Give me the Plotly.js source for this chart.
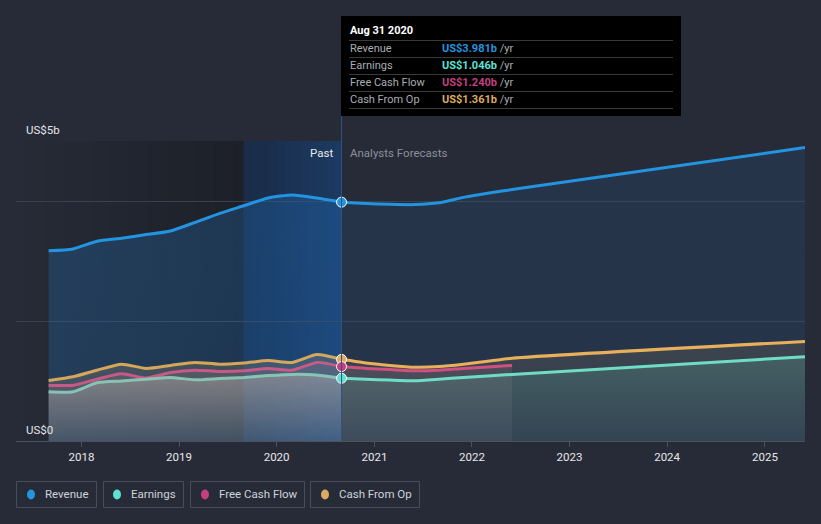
<!DOCTYPE html>
<html>
<head>
<meta charset="utf-8">
<script src="https://cdn.plot.ly/plotly-3.0.1.min.js"></script>
<style>
  html, body { margin: 0; padding: 0; background: #262b37; }
  #chart { width: 821px; height: 524px; }
</style>
</head>
<body>
<div id="chart"></div>
<script>
// ---------- data (US$ billions) ----------
const pastDates = ['2017-08-31','2017-11-30','2018-02-28','2018-05-31','2018-08-31','2018-11-30','2019-02-28','2019-05-31','2019-08-31','2019-11-30','2020-02-29','2020-05-31','2020-08-31'];
const pastRevenue  = [3.17, 3.20, 3.33, 3.38, 3.44, 3.50, 3.64, 3.79, 3.92, 4.05, 4.10, 4.05, 3.981];
const pastEarnings = [0.82, 0.82, 0.97, 1.00, 1.03, 1.06, 1.02, 1.04, 1.06, 1.09, 1.11, 1.10, 1.046];
const pastFCF      = [0.93, 0.93, 1.03, 1.12, 1.05, 1.14, 1.18, 1.16, 1.17, 1.21, 1.18, 1.31, 1.240];
const pastCFO      = [1.01, 1.07, 1.18, 1.28, 1.21, 1.26, 1.31, 1.28, 1.30, 1.34, 1.31, 1.44, 1.361];

const fcDates = ['2020-08-31','2020-11-30','2021-02-28','2021-05-31','2021-08-31','2021-11-30','2022-02-28','2022-05-31','2025-05-31'];
const fcRevenue  = [3.981, 3.96, 3.945, 3.94, 3.97, 4.06, 4.13, 4.19, 4.89];
const fcEarnings = [1.046, 1.03, 1.015, 1.005, 1.03, 1.06, 1.085, 1.11, 1.405];
const fcCFO      = [1.361, 1.30, 1.26, 1.23, 1.24, 1.28, 1.33, 1.38, 1.66];
const fcFCF      = [1.240, 1.21, 1.19, 1.17, 1.18, 1.21, 1.235, 1.26];

const xTickVals = ['2018-01-01','2019-01-01','2020-01-01','2021-01-01','2022-01-01','2023-01-01','2024-01-01','2025-01-01'];
const xTickText = ['2018','2019','2020','2021','2022','2023','2024','2025'];
const yTickVals = [0, 2, 4, 5];
const yTickText = ['US$0', '', '', 'US$5b'];

const seriesNames = ['Revenue', 'Earnings', 'Free Cash Flow', 'Cash From Op'];
const tooltipDate = 'Aug 31 2020';
const tooltipValues = ['US$3.981b', 'US$1.046b', 'US$1.240b', 'US$1.361b'];

const pastStart = '2019-08-31';
const nowDate = '2020-08-31';
const xRange = ['2017-05-01', '2025-05-31'];

// ---------- styles ----------
const C = {
  rev: '#2394df', earn: '#6fdcc5', fcf: '#d0517f', cfo: '#e8b05a',
  revDot: '#2394df', earnDot: '#5ee0d4', fcfDot: '#c2407f', cfoDot: '#dcaa62'
};
const font = 'Roboto, "Open Sans", sans-serif';

function grad(c0, c1) { return {type: 'vertical', colorscale: [[0, c0], [1, c1]]}; }

function line(x, y, color, width, fillgrad) {
  return {
    type: 'scatter', mode: 'lines', x: x, y: y,
    line: {color: color, width: width, shape: 'spline', smoothing: 0.6},
    fill: 'tozeroy', fillgradient: fillgrad,
    hoverinfo: 'skip', showlegend: false
  };
}

const traces = [
  // past
  line(pastDates, pastRevenue, C.rev, 3, grad('rgba(33,130,220,0.22)', 'rgba(33,130,220,0.24)')),
  line(pastDates, pastCFO, 'rgba(232,176,90,0.9)', 3, grad('rgba(200,175,130,0.10)', 'rgba(200,175,120,0.22)')),
  line(pastDates, pastFCF, 'rgba(214,90,140,0.9)', 3, grad('rgba(190,150,160,0.05)', 'rgba(200,140,155,0.16)')),
  line(pastDates, pastEarnings, 'rgba(140,205,185,0.9)', 3, grad('rgba(200,195,190,0.08)', 'rgba(215,205,195,0.34)')),
  // forecast
  line(fcDates, fcRevenue, C.rev, 3, grad('rgba(35,110,190,0.14)', 'rgba(35,110,190,0.14)')),
  line(fcDates, fcCFO, C.cfo, 3, grad('rgba(210,180,120,0.06)', 'rgba(220,180,110,0.12)')),
  line(fcDates.slice(0, fcFCF.length), fcFCF, C.fcf, 3, grad('rgba(190,150,175,0.08)', 'rgba(200,140,165,0.14)')),
  line(fcDates, fcEarnings, C.earn, 3, grad('rgba(100,200,180,0.06)', 'rgba(110,210,180,0.20)'))
];

// markers at the current date (last past value)
const markerSeries = [
  [pastRevenue, C.revDot], [pastCFO, C.cfoDot], [pastFCF, C.fcfDot], [pastEarnings, C.earnDot]
];
markerSeries.forEach(function (m) {
  traces.push({
    type: 'scatter', mode: 'markers',
    x: [pastDates[pastDates.length - 1]], y: [m[0][m[0].length - 1]],
    marker: {size: 10, color: m[1], line: {color: '#ffffff', width: 1}},
    hoverinfo: 'skip', showlegend: false
  });
});

// ---------- layout helpers ----------
const L = 16, R = 805, T = 141, B = 441;
function px(x) { return (x - L) / (R - L); }
function py(y) { return (B - y) / (B - T); }
function mix(a, b, t) {
  const r = a.map(function (v, i) { return Math.round(v + (b[i] - v) * t); });
  return 'rgb(' + r.join(',') + ')';
}

const shapes = [];
// horizontal gradient strips: darkening past background and highlighted last-year band
function strips(d0, d1, c0, c1, n) {
  const t0 = new Date(d0).getTime(), t1 = new Date(d1).getTime();
  for (let i = 0; i < n; i++) {
    const a = new Date(t0 + (t1 - t0) * i / n).toISOString().slice(0, 19);
    const b = new Date(t0 + (t1 - t0) * (i + 1) / n + 86400000 * 3).toISOString().slice(0, 19);
    const bEnd = i === n - 1 ? new Date(t1).toISOString().slice(0, 19) : b;
    shapes.push({type: 'rect', layer: 'below', xref: 'x', yref: 'paper', x0: a, x1: bEnd, y0: 0, y1: 1,
      fillcolor: mix(c0, c1, (i + 0.5) / n), line: {width: 0}});
  }
}
strips(xRange[0], pastStart, [38, 43, 55], [29, 32, 40], 24);
strips(pastStart, nowDate, [26, 43, 70], [27, 58, 98], 12);

shapes.push(
  {type: 'line', layer: 'above', xref: 'x', yref: 'paper', x0: nowDate, x1: nowDate, y0: 0, y1: py(116),
   line: {color: '#34527a', width: 1}},
  // tooltip box
  {type: 'rect', layer: 'above', xref: 'paper', yref: 'paper', x0: px(341), x1: px(681), y0: py(116), y1: py(16),
   fillcolor: '#000000', line: {width: 0}}
);
[40.5, 57.5, 74.5, 91.5, 108.5].forEach(function (yy) {
  shapes.push({type: 'line', layer: 'above', xref: 'paper', yref: 'paper', x0: px(349), x1: px(673), y0: py(yy), y1: py(yy),
    line: {color: '#3a3a3a', width: 1}});
});

const annotations = [];
// y tick labels
yTickVals.forEach(function (v, i) {
  if (!yTickText[i]) return;
  annotations.push({xref: 'paper', yref: 'y', x: px(24), y: v, xanchor: 'left', yanchor: 'bottom', yshift: 2,
    text: yTickText[i], showarrow: false, font: {family: font, size: 11.5, color: '#e4e6ea'}});
});
// Past / Analysts Forecasts
annotations.push({xref: 'x', yref: 'paper', x: nowDate, y: py(153), xanchor: 'right', yanchor: 'middle', xshift: -7,
  text: 'Past', showarrow: false, font: {family: font, size: 11.5, color: '#e8eaee'}});
annotations.push({xref: 'x', yref: 'paper', x: nowDate, y: py(153), xanchor: 'left', yanchor: 'middle', xshift: 6,
  text: 'Analysts Forecasts', showarrow: false, font: {family: font, size: 11.5, color: '#8b909a'}});
// tooltip
annotations.push({xref: 'paper', yref: 'paper', x: px(348), y: py(31), xanchor: 'left', yanchor: 'middle',
  text: '<b>' + tooltipDate + '</b>', showarrow: false, font: {family: font, size: 11, color: '#ffffff'}});
const tipColors = [C.revDot, C.earnDot, C.fcfDot, C.cfoDot];
const tipRows = [48.5, 65.5, 82.5, 99.5];
seriesNames.forEach(function (n, i) {
  annotations.push({xref: 'paper', yref: 'paper', x: px(348), y: py(tipRows[i]), xanchor: 'left', yanchor: 'middle',
    text: n, showarrow: false, font: {family: font, size: 11, color: '#a9adb4'}});
  annotations.push({xref: 'paper', yref: 'paper', x: px(440), y: py(tipRows[i]), xanchor: 'left', yanchor: 'middle',
    text: '<b><span style="color:' + tipColors[i] + '">' + tooltipValues[i] + '</span></b> /yr', showarrow: false,
    font: {family: font, size: 11, color: '#a9adb4'}});
});
// custom legend
const legBoxes = [[16, 97], [103, 184], [190, 305], [310, 420]];
const legDots = [31, 117, 205, 325];
const legColors = [C.revDot, C.earnDot, C.fcfDot, C.cfoDot];
seriesNames.forEach(function (n, i) {
  shapes.push({type: 'rect', xref: 'paper', yref: 'paper', x0: px(legBoxes[i][0] + 0.5), x1: px(legBoxes[i][1] - 0.5),
    y0: py(481.5), y1: py(507.5), fillcolor: 'rgba(0,0,0,0)', line: {color: '#474d59', width: 1}});
  shapes.push({type: 'circle', xref: 'paper', yref: 'paper', xsizemode: 'pixel', ysizemode: 'pixel',
    xanchor: px(legDots[i]), yanchor: py(494.5), x0: -4, x1: 4, y0: -5, y1: 5,
    fillcolor: legColors[i], line: {width: 0}});
  annotations.push({xref: 'paper', yref: 'paper', x: px(legDots[i] + 12), y: py(494.5), xanchor: 'left', yanchor: 'middle',
    text: n, showarrow: false, font: {family: font, size: 11.5, color: '#cfd3da'}});
});

const layout = {
  width: 821, height: 524,
  margin: {l: L, r: 821 - R, t: T, b: 524 - B},
  paper_bgcolor: '#262b37', plot_bgcolor: '#262b37',
  showlegend: false,
  font: {family: font, color: '#e4e6ea'},
  xaxis: {
    type: 'date', range: xRange, tickvals: xTickVals, ticktext: xTickText,
    ticks: 'outside', ticklen: 5, tickcolor: '#4b515d', showgrid: false,
    showline: true, linecolor: '#4b515d', linewidth: 1, zeroline: false,
    tickfont: {family: font, size: 11.5, color: '#e8e8e8'}, fixedrange: true
  },
  yaxis: {
    range: [0, 5], tickvals: yTickVals, ticktext: yTickText, showticklabels: false,
    showgrid: true, gridcolor: '#3a404c', gridwidth: 1, zeroline: false, showline: false, fixedrange: true
  },
  shapes: shapes,
  annotations: annotations
};

Plotly.newPlot('chart', traces, layout, {displayModeBar: false, staticPlot: true});
</script>
</body>
</html>
